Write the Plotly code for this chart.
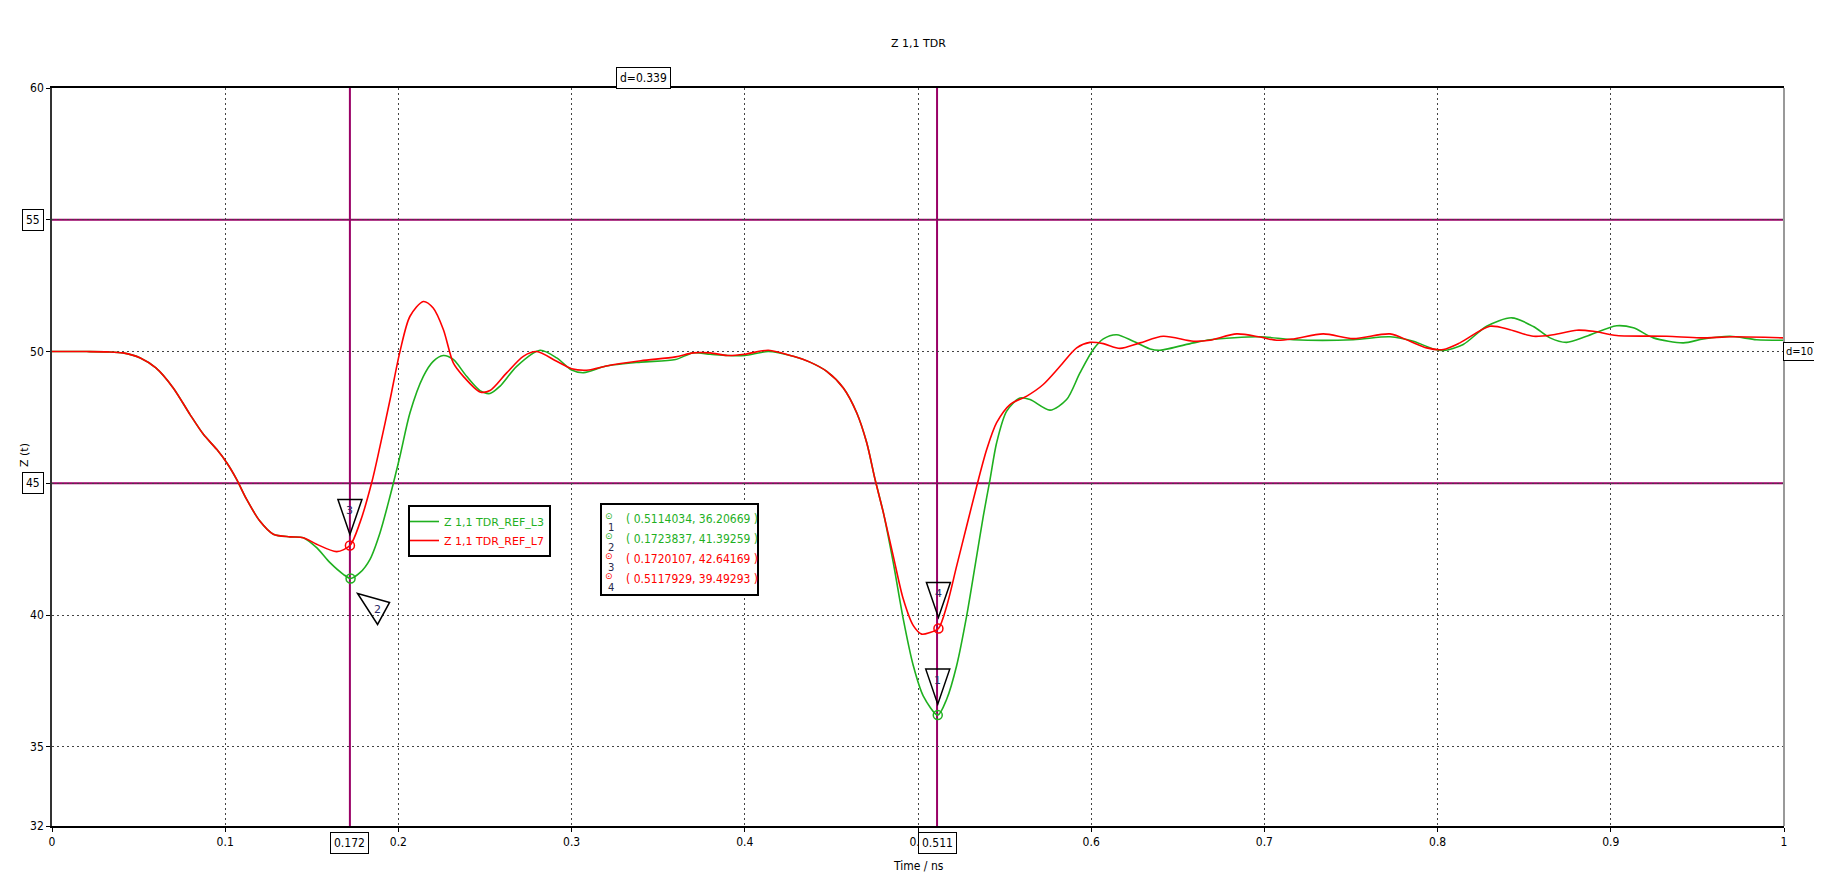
import plotly.graph_objects as go

# ---------------- data ----------------
title_text = "Z 1,1 TDR"
x_label = "Time / ns"
y_label = "Z (t)"

names = ["Z 1,1 TDR_REF_L3", "Z 1,1 TDR_REF_L7"]
colors = ["#1FB01F", "#FF0000"]

common_t = [0, 0.02, 0.032, 0.041, 0.051, 0.060, 0.070, 0.0797, 0.0874, 0.0951, 0.1009,
            0.1066, 0.1124, 0.120, 0.1278, 0.1374, 0.1451]
common_z = [50, 50, 49.99, 49.95, 49.76, 49.38, 48.62, 47.61, 46.86, 46.29, 45.78,
            45.15, 44.39, 43.57, 43.07, 42.97, 42.94]

l3_t = [0.1528, 0.1605, 0.1682, 0.1723837, 0.1778, 0.1836, 0.1894, 0.1952, 0.2009, 0.2067,
        0.2144, 0.2201, 0.2259, 0.2317, 0.2394, 0.2471, 0.2529, 0.2587, 0.2683, 0.2818,
        0.2914, 0.30, 0.307, 0.32, 0.34, 0.36, 0.37, 0.38, 0.39, 0.40, 0.4136, 0.428,
        0.4376, 0.4473, 0.4569, 0.4646, 0.4704, 0.4752, 0.48, 0.4857, 0.4915, 0.4973,
        0.503, 0.5114034, 0.5166, 0.5223, 0.5281, 0.5339, 0.5377, 0.5416, 0.5454, 0.5512,
        0.5589, 0.5647, 0.5762, 0.5858, 0.5935, 0.6012, 0.607, 0.6147, 0.6243, 0.634,
        0.6397, 0.659, 0.6686, 0.6975, 0.7167, 0.7513, 0.7725, 0.786, 0.7975, 0.8033,
        0.8148, 0.8283, 0.8428, 0.8553, 0.8649, 0.8745, 0.886, 0.9034, 0.913, 0.9246,
        0.9419, 0.9534, 0.9688, 0.9842, 1.0]
l3_z = [42.56, 41.99, 41.55, 41.39259, 41.61, 42.12, 43.13, 44.52, 46.03, 47.68,
        49.06, 49.63, 49.85, 49.70, 49.06, 48.52, 48.41, 48.69, 49.44, 50.05,
        49.76, 49.3, 49.2, 49.45, 49.6, 49.7, 49.95, 49.9, 49.85, 49.85, 50.0, 49.82,
        49.6, 49.25, 48.62, 47.68, 46.54, 45.15, 43.89, 42.0, 39.85, 38.08,
        36.94, 36.20669, 36.82, 38.08, 39.97, 42.25, 43.76, 45.15, 46.54, 47.74,
        48.24, 48.18, 47.78, 48.18, 49.19, 50.08, 50.48, 50.64, 50.39, 50.10,
        50.05, 50.33, 50.45, 50.56, 50.45, 50.45, 50.56, 50.39, 50.10, 50.04,
        50.27, 50.96, 51.28, 50.95, 50.52, 50.35, 50.58, 50.98, 50.9, 50.52,
        50.33, 50.48, 50.58, 50.45, 50.43]

l7_t = [0.1528, 0.1644, 0.1720107, 0.1778, 0.1846, 0.1894, 0.1952, 0.2009, 0.2067, 0.2144,
        0.2201, 0.226, 0.2317, 0.2375, 0.2471, 0.2529, 0.2625, 0.2721, 0.2798, 0.2914,
        0.30, 0.31, 0.32, 0.34, 0.36, 0.37, 0.38, 0.39, 0.40, 0.4136, 0.428, 0.4376,
        0.4473, 0.4569, 0.4646, 0.4704, 0.4752, 0.48, 0.4857, 0.4915, 0.4973, 0.5021,
        0.5069, 0.5117929, 0.5166, 0.5223, 0.5281, 0.5339, 0.5397, 0.5454, 0.5531, 0.5628,
        0.5723, 0.582, 0.5916, 0.5993, 0.607, 0.6166, 0.6282, 0.6416, 0.659, 0.6686,
        0.684, 0.6975, 0.7071, 0.7167, 0.734, 0.7513, 0.7725, 0.7841, 0.7937, 0.8033,
        0.8129, 0.8302, 0.8418, 0.8553, 0.8668, 0.8803, 0.8899, 0.9034, 0.9323, 0.9515,
        0.9707, 1.0]
l7_z = [42.69, 42.41, 42.64169, 43.51, 45.03, 46.41, 48.18, 50.0, 51.34, 51.9,
        51.65, 50.83, 49.57, 49.06, 48.47, 48.52, 49.19, 49.82, 50.0, 49.63,
        49.35, 49.3, 49.45, 49.65, 49.8, 49.95, 49.95, 49.85, 49.9, 50.05, 49.82, 49.6,
        49.25, 48.62, 47.68, 46.54, 45.15, 43.89, 42.25, 40.61, 39.6, 39.28,
        39.34, 39.49293, 40.35, 41.86, 43.38, 44.89, 46.29, 47.3, 47.99, 48.31,
        48.75, 49.44, 50.14, 50.35, 50.30, 50.12, 50.33, 50.58, 50.39, 50.43,
        50.67, 50.55, 50.43, 50.48, 50.67, 50.49, 50.67, 50.39, 50.14, 50.08,
        50.33, 50.96, 50.83, 50.58, 50.64, 50.81, 50.77, 50.61, 50.58, 50.52,
        50.56, 50.52]

# markers: id, x, y, trace index
marker_ids = [1, 2, 3, 4]
marker_x = [0.5114034, 0.1723837, 0.1720107, 0.5117929]
marker_y = [36.20669, 41.39259, 42.64169, 39.49293]
marker_trace = [0, 0, 1, 1]

cursor_x = [0.172, 0.511]
cursor_y = [45, 55]

x_ticks = [0, 0.1, 0.2, 0.3, 0.4, 0.5, 0.6, 0.7, 0.8, 0.9, 1]
x_ticktext = ["0", "0.1", "0.2", "0.3", "0.4", "0.5", "0.6", "0.7", "0.8", "0.9", "1"]
y_ticks = [32, 35, 40, 45, 50, 55, 60]
y_ticktext = ["32", "35", "40", "", "50", "", "60"]

# ---------------- layout geometry (page pixels; page has an 8px body margin) ----------------
BODY = 8
W, H = 1822 - 2 * BODY, 890 - 2 * BODY
PL, PR, PT, PB = 52, 1784, 88, 826          # plot area in page pixels


def px(p):   # page x -> paper x
    return (p - PL) / (PR - PL)


def py(p):   # page y -> paper y
    return (PB - p) / (PB - PT)


CUR = "#990066"
FONT = "DejaVu Sans Condensed, DejaVu Sans, sans-serif"
FONT2 = "DejaVu Sans, Verdana, sans-serif"

fig = go.Figure()
series = [(common_t + l3_t, common_z + l3_z), (common_t + l7_t, common_z + l7_z)]
for i, (t, z) in enumerate(series):
    fig.add_trace(go.Scatter(
        x=t, y=z, mode="lines",
        line=dict(color=colors[i], width=1.6, shape="spline", smoothing=0.8),
        name=f"<span style='color:{colors[i]}'>{names[i]}</span>",
    ))

for k in range(len(marker_ids)):
    fig.add_trace(go.Scatter(
        x=[marker_x[k]], y=[marker_y[k]], mode="markers", showlegend=False,
        marker=dict(symbol="circle-open", size=9, color=colors[marker_trace[k]],
                    line=dict(width=1.5, color=colors[marker_trace[k]])),
    ))

shapes = []
for cx in cursor_x:
    shapes.append(dict(type="line", xref="x", yref="paper", x0=cx, x1=cx, y0=0, y1=1,
                       line=dict(color=CUR, width=2), layer="between"))
for cy in cursor_y:
    shapes.append(dict(type="line", xref="paper", yref="y", x0=0, x1=1, y0=cy, y1=cy,
                       line=dict(color=CUR, width=2), layer="between"))
# right border
shapes.append(dict(type="line", xref="paper", yref="paper", x0=1, x1=1, y0=0, y1=1,
                   line=dict(color="#999999", width=2)))

annotations = []
# triangle flags
tri_down = "M -12 46 L 12 46 L 0 11 Z"
tri_side = "M 7 -15 L 39 -24 L 27 -46 Z"
for k, mid in enumerate(marker_ids):
    path = tri_side if mid == 2 else tri_down
    shapes.append(dict(type="path", xref="x", yref="y", xsizemode="pixel", ysizemode="pixel",
                       xanchor=marker_x[k], yanchor=marker_y[k], path=path,
                       line=dict(color="black", width=1.5), fillcolor="rgba(0,0,0,0)"))
    if mid == 2:
        xs, ys = 27, -31
    else:
        xs, ys = 0, 35
    annotations.append(dict(x=marker_x[k], y=marker_y[k], xref="x", yref="y", text=str(mid),
                            showarrow=False, xshift=xs, yshift=ys, xanchor="center",
                            yanchor="middle",
                            font=dict(family=FONT2, size=11, color="#2b2b66")))

box = dict(showarrow=False, bordercolor="black", borderwidth=1, bgcolor="white", borderpad=3,
           font=dict(family=FONT, size=12, color="black"))
# cursor x labels
for cx in cursor_x:
    annotations.append(dict(box, x=cx, xref="x", y=0, yref="paper", xanchor="center",
                            yanchor="top", yshift=-6, text=f"{cx:g}"))
for cy in cursor_y:
    annotations.append(dict(box, x=0, xref="paper", y=cy, yref="y", xanchor="right",
                            yanchor="middle", xshift=-8, text=f"{cy:g}"))
annotations.append(dict(box, x=(cursor_x[0] + cursor_x[1]) / 2, xref="x", y=1, yref="paper",
                        xanchor="center", yanchor="bottom", yshift=-1,
                        text=f"d={cursor_x[1] - cursor_x[0]:.3f}"))
annotations.append(dict(box, x=1, xref="paper", y=(cursor_y[0] + cursor_y[1]) / 2, yref="y",
                        xanchor="left", yanchor="middle", xshift=-1, borderpad=2,
                        font=dict(family=FONT, size=11, color="black"),
                        text=f"d={cursor_y[1] - cursor_y[0]:g}"))

# marker info box (frame + rows)
shapes.append(dict(type="rect", xref="paper", yref="paper", x0=px(601), x1=px(758),
                   y0=py(595), y1=py(504), line=dict(color="black", width=2),
                   fillcolor="white"))
for k, mid in enumerate(marker_ids):
    c = colors[marker_trace[k]]
    row_y = 519 + 20 * k
    annotations.append(dict(x=px(609), y=py(row_y - 3), xref="paper", yref="paper",
                            xanchor="center", yanchor="middle", showarrow=False, text="⊙",
                            font=dict(family=FONT2, size=9, color=c)))
    annotations.append(dict(x=px(611), y=py(row_y + 8), xref="paper", yref="paper",
                            xanchor="center", yanchor="middle", showarrow=False, text=str(mid),
                            font=dict(family=FONT2, size=10, color="#2b2b4b")))
    annotations.append(dict(x=px(624), y=py(row_y), xref="paper", yref="paper",
                            xanchor="left", yanchor="middle", showarrow=False,
                            text=f"( {marker_x[k]}, {marker_y[k]} )",
                            font=dict(family=FONT, size=12, color=c)))

# titles
annotations.append(dict(x=0.5, y=py(44), xref="paper", yref="paper", text=title_text,
                        xanchor="center", yanchor="middle", showarrow=False,
                        font=dict(family=FONT2, size=11, color="black")))
annotations.append(dict(x=0.5, y=py(866), xref="paper", yref="paper", text=x_label,
                        xanchor="center", yanchor="middle", showarrow=False,
                        font=dict(family=FONT, size=12, color="black")))
annotations.append(dict(x=px(24), y=py(455), xref="paper", yref="paper",
                        text=y_label, textangle=-90, showarrow=False,
                        xanchor="center", yanchor="middle",
                        font=dict(family=FONT2, size=11, color="black")))

fig.update_layout(
    width=W, height=H,
    margin=dict(l=PL - BODY, r=W + BODY - PR, t=PT - BODY, b=H + BODY - PB, autoexpand=False),
    paper_bgcolor="white", plot_bgcolor="white",
    shapes=shapes, annotations=annotations,
    legend=dict(x=px(408), y=py(505), xanchor="left", yanchor="top",
                bordercolor="black", borderwidth=2, bgcolor="white", indentation=-6,
                font=dict(family=FONT2, size=11), itemwidth=30, tracegroupgap=0),
    showlegend=True,
)
fig.update_xaxes(range=[0, 1], tickvals=x_ticks, ticktext=x_ticktext, showline=True,
                 linecolor="black", linewidth=2, mirror=True, ticks="outside", ticklen=4,
                 tickcolor="black", showgrid=True, gridcolor="#444444", griddash="2px,3px",
                 gridwidth=1, zeroline=False, automargin=False,
                 tickfont=dict(family=FONT, size=12, color="black"))
fig.update_yaxes(range=[32, 60], tickvals=y_ticks, ticktext=y_ticktext, showline=True,
                 linecolor="#333333", linewidth=1.5, ticks="outside", ticklen=4,
                 tickcolor="black", showgrid=True, gridcolor="#444444", griddash="2px,3px",
                 gridwidth=1, zeroline=False, automargin=False,
                 tickfont=dict(family=FONT, size=12, color="black"))

fig.write_html("out.html")
